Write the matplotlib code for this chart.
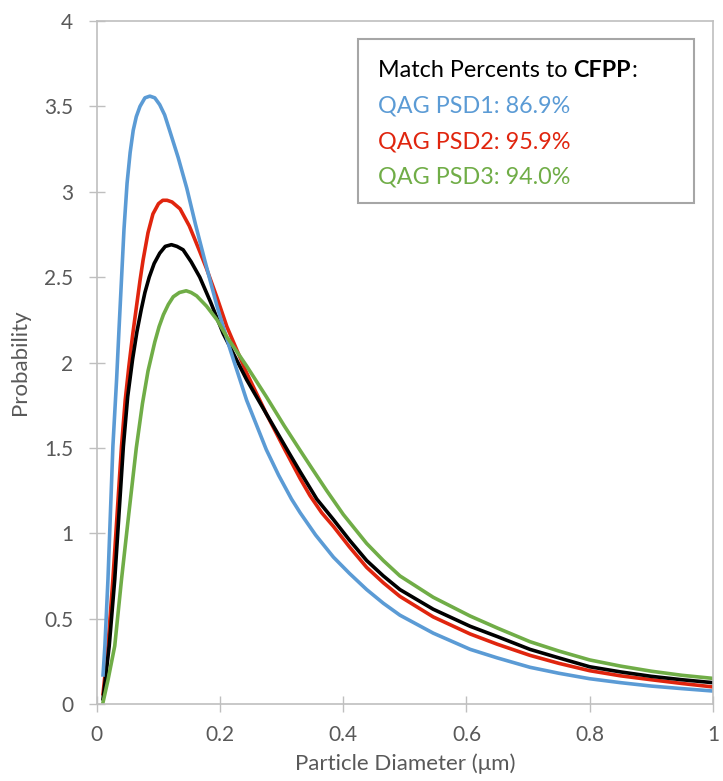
import matplotlib
matplotlib.use('Agg')
import matplotlib.pyplot as plt
from matplotlib.patches import Rectangle
from matplotlib.ticker import FuncFormatter

# --- Data ---
x_cfpp = [0.01, 0.014, 0.020, 0.029, 0.036, 0.043, 0.050, 0.058, 0.065, 0.072, 0.078,
          0.085, 0.093, 0.102, 0.111, 0.121, 0.130, 0.140, 0.153, 0.167, 0.185, 0.205,
          0.243, 0.275, 0.312, 0.330, 0.357, 0.384, 0.410, 0.438, 0.465, 0.492, 0.546,
          0.606, 0.650, 0.703, 0.750, 0.8, 0.85, 0.9, 0.95, 1.0]
y_cfpp = [0.03, 0.15, 0.34, 0.73, 1.12, 1.51, 1.80, 2.02, 2.18, 2.31, 2.41,
          2.50, 2.58, 2.64, 2.68, 2.69, 2.68, 2.66, 2.59, 2.50, 2.35, 2.17,
          1.90, 1.70, 1.47, 1.36, 1.20, 1.08, 0.96, 0.84, 0.75, 0.67, 0.555,
          0.455, 0.395, 0.32, 0.27, 0.218, 0.188, 0.162, 0.142, 0.125]

x_psd1 = [0.01, 0.013, 0.018, 0.022, 0.026, 0.032, 0.036, 0.040, 0.044, 0.049, 0.054,
          0.059, 0.064, 0.070, 0.078, 0.086, 0.094, 0.102, 0.110, 0.118, 0.125, 0.132,
          0.146, 0.160, 0.175, 0.195, 0.216, 0.243, 0.275, 0.295, 0.316, 0.330, 0.355,
          0.384, 0.410, 0.438, 0.465, 0.492, 0.546, 0.606, 0.650, 0.703, 0.750, 0.8,
          0.85, 0.9, 0.95, 1.0]
y_psd1 = [0.17, 0.34, 0.73, 1.12, 1.51, 1.90, 2.20, 2.49, 2.78, 3.05, 3.23,
          3.36, 3.44, 3.50, 3.55, 3.56, 3.55, 3.51, 3.45, 3.36, 3.28, 3.20,
          3.02, 2.81, 2.60, 2.33, 2.08, 1.78, 1.49, 1.34, 1.20, 1.12, 0.99,
          0.86, 0.765, 0.67, 0.59, 0.52, 0.415, 0.32, 0.27, 0.215, 0.18, 0.148,
          0.125, 0.105, 0.09, 0.076]

x_psd2 = [0.01, 0.018, 0.026, 0.033, 0.040, 0.046, 0.052, 0.058, 0.064, 0.070, 0.075,
          0.083, 0.091, 0.100, 0.107, 0.114, 0.122, 0.135, 0.150, 0.158, 0.167, 0.178,
          0.195, 0.211, 0.243, 0.275, 0.305, 0.330, 0.346, 0.365, 0.384, 0.410, 0.438,
          0.465, 0.492, 0.546, 0.606, 0.650, 0.703, 0.750, 0.8, 0.85, 0.9, 0.95, 1.0]
y_psd2 = [0.06, 0.34, 0.73, 1.12, 1.51, 1.78, 1.98, 2.16, 2.32, 2.48, 2.60,
          2.76, 2.87, 2.93, 2.95, 2.95, 2.94, 2.90, 2.80, 2.73, 2.65, 2.55,
          2.38, 2.21, 1.94, 1.70, 1.49, 1.32, 1.22, 1.12, 1.04, 0.92, 0.80,
          0.71, 0.63, 0.51, 0.41, 0.35, 0.285, 0.238, 0.195, 0.165, 0.142, 0.12, 0.10]

x_psd3 = [0.01, 0.018, 0.029, 0.040, 0.052, 0.064, 0.074, 0.083, 0.094, 0.101, 0.108,
          0.116, 0.124, 0.134, 0.145, 0.153, 0.162, 0.170, 0.178, 0.195, 0.211, 0.243,
          0.275, 0.304, 0.330, 0.350, 0.373, 0.400, 0.438, 0.465, 0.492, 0.546, 0.606,
          0.650, 0.703, 0.750, 0.8, 0.85, 0.9, 0.95, 1.0]
y_psd3 = [0.01, 0.14, 0.34, 0.73, 1.12, 1.50, 1.76, 1.95, 2.12, 2.21, 2.28,
          2.34, 2.385, 2.41, 2.42, 2.41, 2.39, 2.36, 2.33, 2.25, 2.15, 1.98,
          1.80, 1.63, 1.485, 1.375, 1.25, 1.11, 0.94, 0.84, 0.75, 0.625, 0.515,
          0.445, 0.365, 0.31, 0.258, 0.222, 0.192, 0.168, 0.15]

match_labels = ['QAG PSD1: 86.9%', 'QAG PSD2: 95.9%', 'QAG PSD3: 94.0%']

BLUE = '#5B9BD5'
RED = '#E0250E'
GREEN = '#70AD47'
GREY_TXT = '#595959'
GREY_LINE = '#BFBFBF'

plt.rcParams['font.family'] = ['Lato', 'DejaVu Sans']

fig = plt.figure(figsize=(7.23, 7.81), dpi=100)
ax = fig.add_axes([0.134, 0.0986, 0.852, 0.8745])

lw = 2.6
ax.plot(x_psd2, y_psd2, color=RED, lw=lw, solid_joinstyle='round')
ax.plot(x_cfpp, y_cfpp, color='black', lw=lw, solid_joinstyle='round')
ax.plot(x_psd1, y_psd1, color=BLUE, lw=lw, solid_joinstyle='round')
ax.plot(x_psd3, y_psd3, color=GREEN, lw=lw, solid_joinstyle='round')

# --- Axes ---
ax.set_xlim(0, 1)
ax.set_ylim(0, 4)
ax.set_xticks([0, 0.2, 0.4, 0.6, 0.8, 1.0])
ax.set_yticks([0, 0.5, 1, 1.5, 2, 2.5, 3, 3.5, 4])
fmt = FuncFormatter(lambda v, p: f'{v:g}')
ax.xaxis.set_major_formatter(fmt)
ax.yaxis.set_major_formatter(fmt)
ax.tick_params(direction='inout', length=12, width=1, color=GREY_LINE,
               labelsize=15, labelcolor=GREY_TXT)
ax.tick_params(axis='y', pad=11)
ax.tick_params(axis='x', pad=9)
for s in ax.spines.values():
    s.set_color(GREY_LINE)
    s.set_linewidth(1.2)

ax.set_xlabel('Particle Diameter (μm)', fontsize=16, color=GREY_TXT, labelpad=6)
ax.set_ylabel('Probability', fontsize=16, color=GREY_TXT, labelpad=10)

# --- Text box ---
box = Rectangle((0.424, 0.733), 0.545, 0.241, transform=ax.transAxes,
                facecolor='white', edgecolor='#A6A6A6', lw=1.5, zorder=5)
ax.add_patch(box)

x0 = 0.456
fs = 16.8
t1 = ax.text(x0, 0.927, 'Match Percents to', transform=ax.transAxes, fontsize=fs,
             color='black', va='center', ha='left', zorder=6)
t2 = ax.annotate('CFPP', xy=(1, 0), xycoords=t1, xytext=(4.5, 0),
                 textcoords='offset points', fontsize=fs, fontweight='bold',
                 va='bottom', ha='left', zorder=6)
ax.annotate(':', xy=(1, 0), xycoords=t2, va='bottom', ha='left', fontsize=fs, zorder=6)

for i, (lab, c) in enumerate(zip(match_labels, [BLUE, RED, GREEN])):
    ax.text(x0, 0.876 - i * 0.0525, lab, transform=ax.transAxes, fontsize=fs,
            color=c, va='center', ha='left', zorder=6)

fig.savefig('out.png', dpi=100)
